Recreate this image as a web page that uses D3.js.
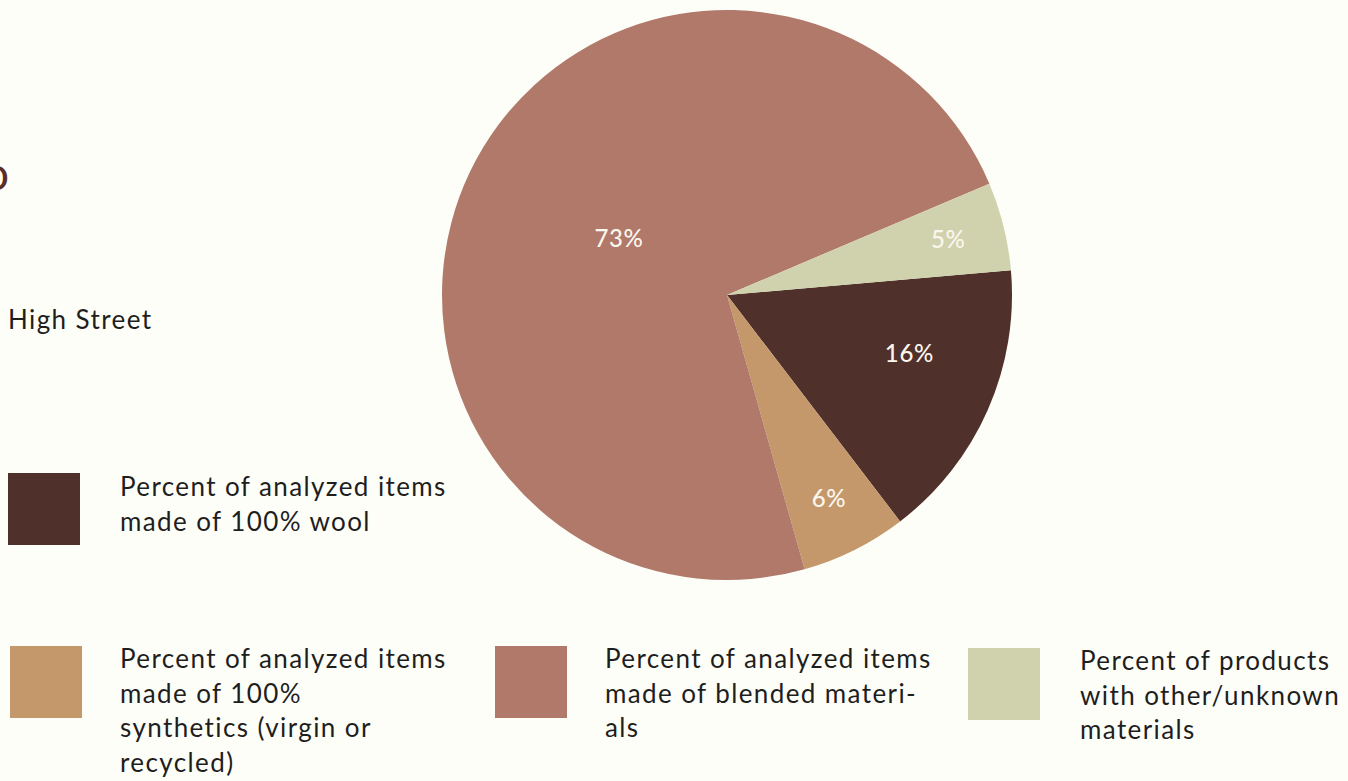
<!DOCTYPE html>
<html>
<head>
<meta charset="utf-8">
<script src="https://cdn.jsdelivr.net/npm/d3@7"></script>
<style>
  html, body { margin: 0; padding: 0; background: #fefef8; }
  svg { display: block; }
  text { font-family: Lato, "Open Sans", sans-serif; }
</style>
</head>
<body>
<svg id="chart" width="1348" height="781"></svg>
<script>
// Material composition shares (percent)
const categories = ["wool", "synthetics", "blended", "other"];
const values = [16, 6, 73, 5];
const valueLabels = ["16%", "6%", "73%", "5%"];
const legendLines = [
  ["Percent of analyzed items", "made of 100% wool"],
  ["Percent of analyzed items", "made of 100%", "synthetics (virgin or", "recycled)"],
  ["Percent of analyzed items", "made of blended materi-", "als"],
  ["Percent of products", "with other/unknown", "materials"]
];
const colors = ["#50302a", "#c4986b", "#b07969", "#d0d2ad"];

// layout
const W = 1348, H = 781;
const cx = 727, cy = 295, R = 285;
const startDeg = 85;
const labelRadius = [0.672, 0.8, 0.428, 0.8];
const labelNudgeDeg = [-6, 0, 2, 0];
const legendPos = [
  { sx: 8, sy: 473, tx: 120, ty: 496 },
  { sx: 10, sy: 646, tx: 120, ty: 668 },
  { sx: 495, sy: 646, tx: 605, ty: 668 },
  { sx: 968, sy: 648, tx: 1080, ty: 670 }
];
const lineH = 34.5;
const textSpacing = 1.4;

const svg = d3.select("#chart");
svg.append("rect").attr("width", W).attr("height", H).attr("fill", "#fefef8");

const rad = d => d * Math.PI / 180;
const data = categories.map((c, i) => ({ key: c, value: values[i], i }));

const pie = d3.pie()
  .value(d => d.value)
  .sort(null)
  .startAngle(rad(startDeg))
  .endAngle(rad(startDeg + 360));

const arc = d3.arc().innerRadius(0).outerRadius(R);
const arcs = pie(data);

const g = svg.append("g").attr("transform", `translate(${cx},${cy})`);
g.selectAll("path.slice")
  .data(arcs)
  .join("path")
  .attr("class", "slice")
  .attr("d", arc)
  .attr("fill", d => colors[d.data.i]);

g.selectAll("text.pct")
  .data(arcs)
  .join("text")
  .attr("class", "pct")
  .attr("transform", d => {
    const a = (d.startAngle + d.endAngle) / 2 + rad(labelNudgeDeg[d.data.i]);
    const r = R * labelRadius[d.data.i];
    return `translate(${r * Math.sin(a)},${-r * Math.cos(a)})`;
  })
  .attr("text-anchor", "middle")
  .attr("dy", "0.35em")
  .attr("fill", "#fbf6ee")
  .attr("font-size", 24)
  .attr("font-weight", 500)
  .attr("letter-spacing", 0.6)
  .text(d => valueLabels[d.data.i]);

// title fragment and subtitle at the left edge
svg.append("text")
  .attr("x", 9).attr("y", 190)
  .attr("text-anchor", "end")
  .attr("fill", "#5a2e27")
  .attr("font-size", 46)
  .text("o");

svg.append("text")
  .attr("x", 8).attr("y", 329)
  .attr("fill", "#1e1e1e")
  .attr("font-size", 26)
  .attr("letter-spacing", textSpacing)
  .text("High Street");

// legend
const leg = svg.append("g");
categories.forEach((c, i) => {
  const p = legendPos[i];
  leg.append("rect")
    .attr("x", p.sx).attr("y", p.sy)
    .attr("width", 72).attr("height", 72)
    .attr("fill", colors[i]);
  const t = leg.append("text")
    .attr("x", p.tx).attr("y", p.ty)
    .attr("fill", "#1e1e1e")
    .attr("font-size", 26)
    .attr("letter-spacing", textSpacing);
  legendLines[i].forEach((ln, k) => {
    t.append("tspan").attr("x", p.tx).attr("y", p.ty + k * lineH).text(ln);
  });
});
</script>
</body>
</html>
